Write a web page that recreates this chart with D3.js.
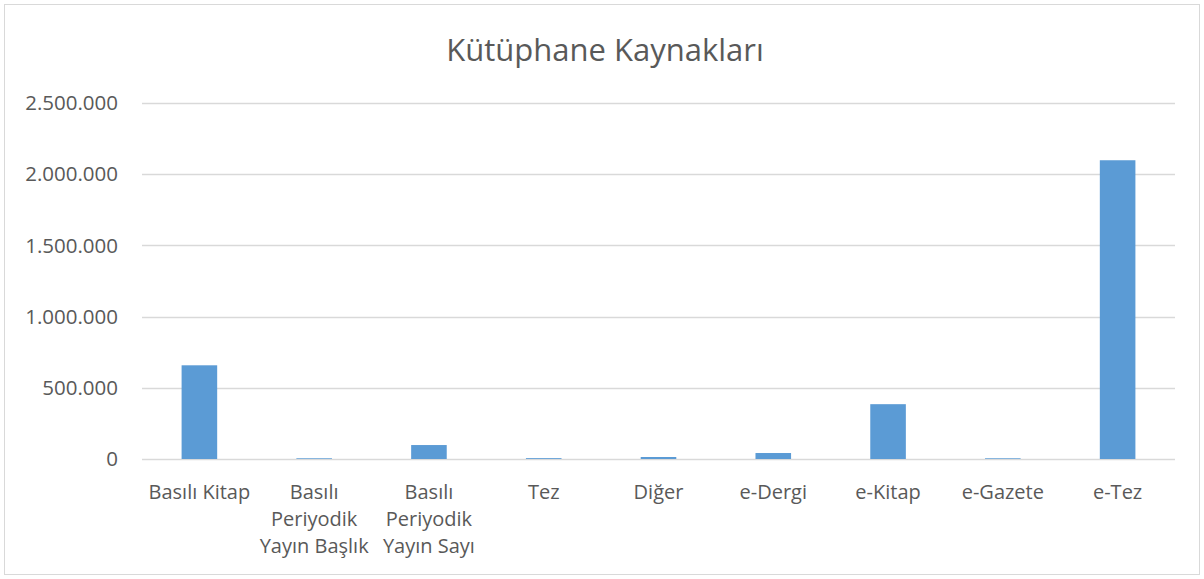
<!doctype html>
<html>
<head>
  <meta charset="UTF-8">
  <title>Kütüphane Kaynakları</title>
  <style>
    body { margin: 0; background: #fff; }
    svg text { font-family: "Open Sans", "Noto Sans", sans-serif; fill: #595959; }
  </style>
</head>
<body>
  <div id="chart"></div>
  <script src="https://cdn.jsdelivr.net/npm/d3@7"></script>
  <script>
    var title = "Kütüphane Kaynakları";
    var categories = ["Basılı Kitap", "Basılı Periyodik Yayın Başlık", "Basılı Periyodik Yayın Sayı",
      "Tez", "Diğer", "e-Dergi", "e-Kitap", "e-Gazete", "e-Tez"];
    var values = [658000, 5000, 98000, 6000, 14000, 42000, 385000, 5000, 2098000];
    var yTicks = [0, 500000, 1000000, 1500000, 2000000, 2500000];

    var width = 1204, height = 579;
    var margin = {top: 103, right: 29, bottom: 119, left: 142};

    var svg = d3.select("#chart").append("svg")
      .attr("width", width)
      .attr("height", height);

    // outer chart border
    svg.append("rect")
      .attr("x", 4.5).attr("y", 4.5)
      .attr("width", width - 9).attr("height", height - 9)
      .attr("fill", "#fff")
      .attr("stroke", "#d9d9d9");

    svg.append("text")
      .attr("x", 605)
      .attr("y", 61)
      .attr("text-anchor", "middle")
      .style("font-size", "31px")
      .text(title);

    var x = d3.scaleBand()
      .domain(categories)
      .range([margin.left, width - margin.right]);

    var y = d3.scaleLinear()
      .domain([0, 2500000])
      .range([height - margin.bottom - 1, margin.top]);

    var fmt = function(d) { return d3.format(",")(d).replace(/,/g, "."); };

    // gridlines
    svg.append("g")
      .selectAll("line")
      .data(yTicks)
      .join("line")
      .attr("x1", x.range()[0])
      .attr("x2", x.range()[1])
      .attr("y1", function(d) { return Math.round(y(d)) + 0.5; })
      .attr("y2", function(d) { return Math.round(y(d)) + 0.5; })
      .attr("stroke", "#d9d9d9")
      .attr("stroke-width", 1.5);

    // y labels
    svg.append("g")
      .selectAll("text")
      .data(yTicks)
      .join("text")
      .attr("x", 118)
      .attr("y", function(d) { return y(d); })
      .attr("dy", "0.35em")
      .attr("text-anchor", "end")
      .style("font-size", "20.5px")
      .text(fmt);

    var barW = x.bandwidth() * 0.31;

    svg.append("g")
      .selectAll("rect")
      .data(values)
      .join("rect")
      .attr("x", function(d, i) { return x(categories[i]) + (x.bandwidth() - barW) / 2; })
      .attr("width", barW)
      .attr("y", function(d) { return y(d); })
      .attr("height", function(d) { return y(0) - y(d); })
      .attr("fill", "#5b9bd5");

    // category labels with wrapping
    var labels = svg.append("g")
      .selectAll("text")
      .data(categories)
      .join("text")
      .attr("x", function(d) { return x(d) + x.bandwidth() / 2; })
      .attr("y", 499)
      .attr("text-anchor", "middle")
      .style("font-size", "20px");

    labels.each(function(d) {
      var t = d3.select(this);
      var cx = +t.attr("x");
      var words = d.split(" ");
      var lines = [];
      var line = [];
      var probe = t.append("tspan");
      words.forEach(function(w) {
        line.push(w);
        probe.text(line.join(" "));
        if (probe.node().getComputedTextLength() > x.bandwidth() + 14 && line.length > 1) {
          line.pop();
          lines.push(line.join(" "));
          line = [w];
        }
      });
      lines.push(line.join(" "));
      probe.remove();
      lines.forEach(function(l, k) {
        t.append("tspan").attr("x", cx).attr("dy", k === 0 ? 0 : 27).text(l);
      });
    });
  </script>
</body>
</html>
